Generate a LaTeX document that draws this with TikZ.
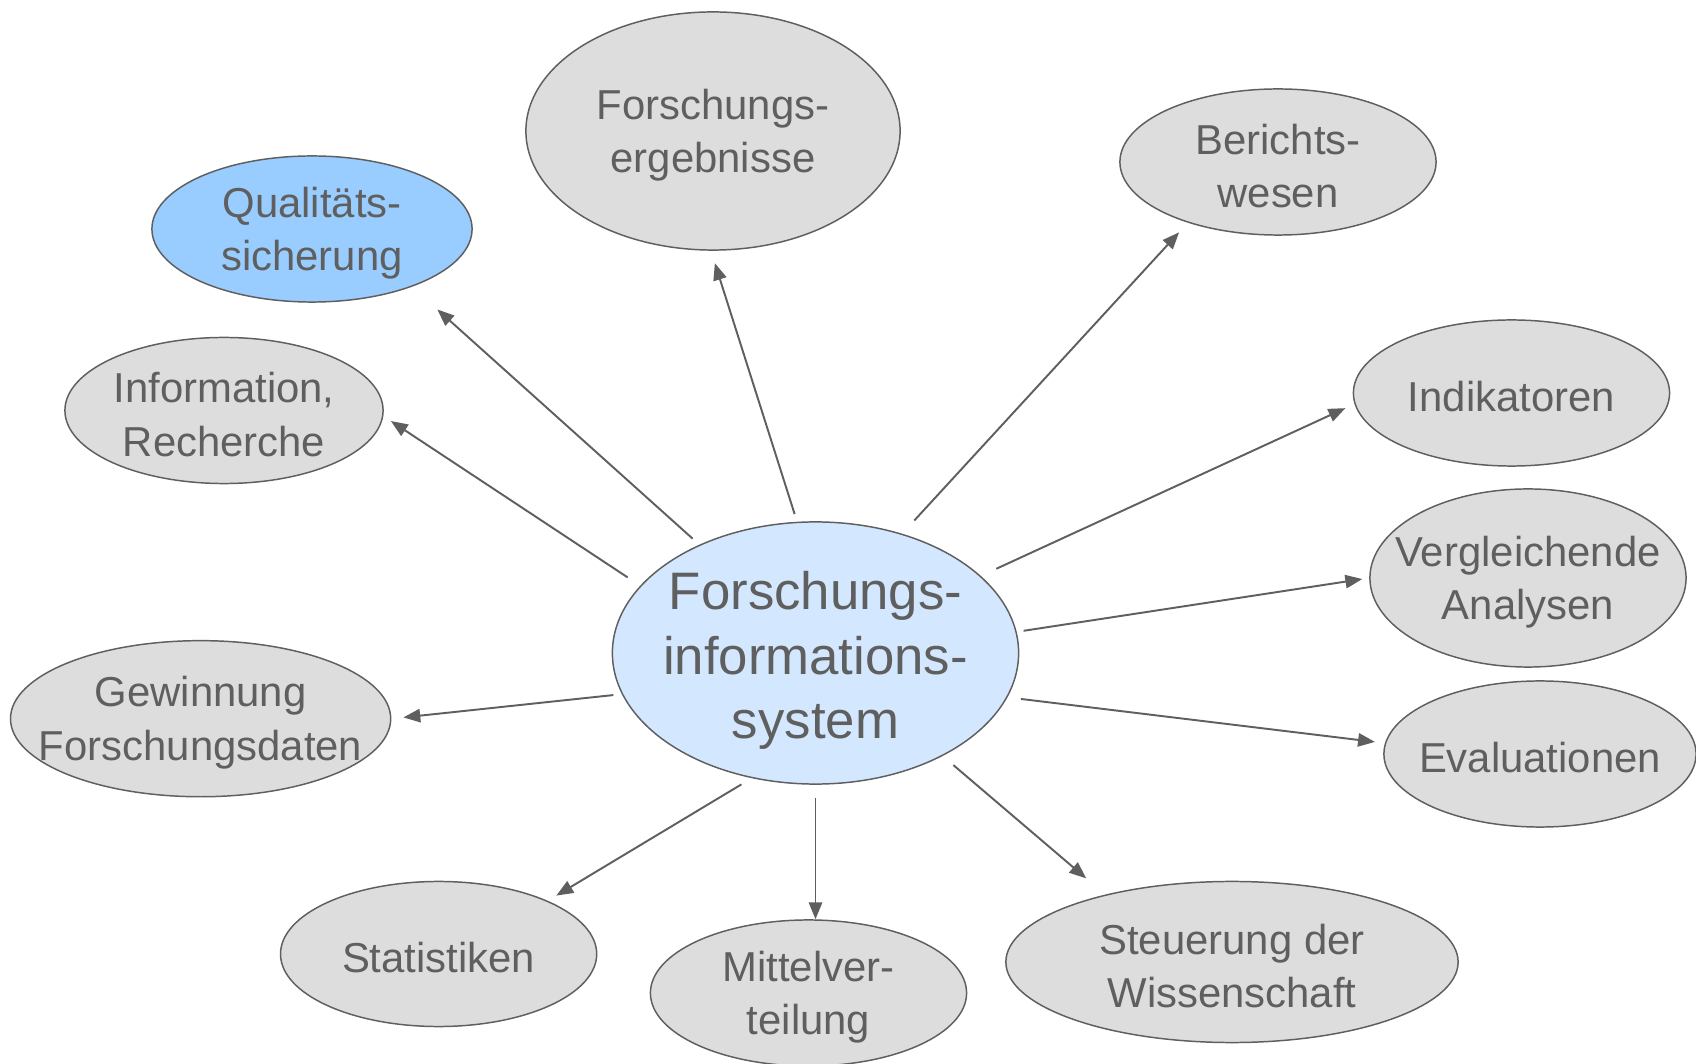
\documentclass[tikz,border=0pt]{standalone}
\usepackage{fontspec}
\setmainfont{Liberation Sans}
\usepackage{tikz}
\usetikzlibrary{shapes.geometric}
\usetikzlibrary{arrows.meta}
\usepackage{xcolor}

\definecolor{lineGray}{HTML}{5F5F5F}
\definecolor{bubbleGray}{HTML}{DDDDDD}
\definecolor{coreBlue}{HTML}{D3E8FF}
\definecolor{qsBlue}{HTML}{99CCFF}

\begin{document}
\begin{tikzpicture}[
  x=0.01cm, y=0.01cm,
  bubble/.style={ellipse, draw=lineGray, line width=0.42pt, fill=bubbleGray, inner sep=0pt},
  txt/.style={align=center, text=lineGray, inner sep=0pt, yshift=-0.04cm, font=\fontsize{11.9}{15.1}\selectfont},
  coretxt/.style={align=center, text=lineGray, inner sep=0pt, yshift=-0.075cm, font=\fontsize{15}{18.4}\selectfont},
  link/.style={-{Triangle[length=4.8pt, width=3.8pt]}, draw=lineGray, fill=lineGray, line width=0.55pt}
]
\useasboundingbox (0,0) rectangle (1696,1063);

% Centre
\node[bubble, fill=coreBlue, minimum width=4.06cm, minimum height=2.62cm] (fis) at (815.5,410) {};
\node[coretxt] (fis-t) at (fis) {Forschungs-\\informations-\\system};

% Outer ring
\node[bubble, minimum width=3.74cm, minimum height=2.38cm] (fe) at (713,932) {};
\node[txt] (fe-t) at (fe) {Forschungs-\\ergebnisse};

\node[bubble, minimum width=3.16cm, minimum height=1.46cm] (bw) at (1278,901) {};
\node[txt] (bw-t) at (bw) {Berichts-\\wesen};

\node[bubble, fill=qsBlue, minimum width=3.20cm, minimum height=1.46cm] (qs) at (312,834) {};
\node[txt] (qs-t) at (qs) {Qualitäts-\\sicherung};

\node[bubble, minimum width=3.18cm, minimum height=1.46cm] (ir) at (224,652.5) {};
\node[txt] (ir-t) at (ir) {Information,\\Recherche};

\node[bubble, minimum width=3.16cm, minimum height=1.46cm] (ind) at (1511.5,670) {};
\node[txt] (ind-t) at (ind) {Indikatoren};

\node[bubble, minimum width=3.16cm, minimum height=1.78cm] (va) at (1528,485) {};
\node[txt] (va-t) at (va) {Vergleichende\\Analysen};

\node[bubble, minimum width=3.80cm, minimum height=1.56cm] (gf) at (200.6,344.3) {};
\node[txt] (gf-t) at (gf) {Gewinnung\\Forschungsdaten};

\node[bubble, minimum width=3.12cm, minimum height=1.46cm] (ev) at (1540,309) {};
\node[txt] (ev-t) at (ev) {Evaluationen};

\node[bubble, minimum width=3.16cm, minimum height=1.45cm] (sta) at (438.6,109) {};
\node[txt] (sta-t) at (sta) {Statistiken};

\node[bubble, minimum width=3.16cm, minimum height=1.46cm] (mv) at (808.5,70) {};
\node[txt] (mv-t) at (mv) {Mittelver-\\teilung};

\node[bubble, minimum width=4.52cm, minimum height=1.61cm] (st) at (1232,101) {};
\node[txt] (st-t) at (st) {Steuerung der\\Wissenschaft};

% Arrows
\draw[link, shorten <=0.09cm, shorten >=0.34cm] (fis.137) -- (qs.-30);
\draw[link, shorten <=0.15cm, shorten >=0.09cm] (fis.159) -- (ir.-2);
\draw[link, shorten <=0.08cm, shorten >=0.13cm] (fis.98) -- (fe.-91);
\draw[link, shorten <=0.18cm, shorten >=0.13cm] (fis.54) -- (bw.-146);
\draw[link, shorten <=0.17cm, shorten >=0.10cm] (fis.25.5) -- (ind.184);
\draw[link, shorten <=0.07cm, shorten >=0.07cm] (fis.6) -- (va.180);
\draw[link, shorten <=0.135cm, shorten >=0.10cm] (fis.-13.5) -- (ev.176);
\draw[link, shorten <=0.14cm, shorten >=0.25cm] (fis.-39) -- (st.152);
\draw[link, shorten <=0.13cm] (fis.south) -- (fis.south |- mv.north);
\draw[link, shorten <=0.12cm, shorten >=0.10cm] (fis.-117.6) -- (sta.26);
\draw[link, shorten <=0.085cm, shorten >=0.12cm] (fis.-168.7) -- (gf.0);

\end{tikzpicture}
\end{document}
